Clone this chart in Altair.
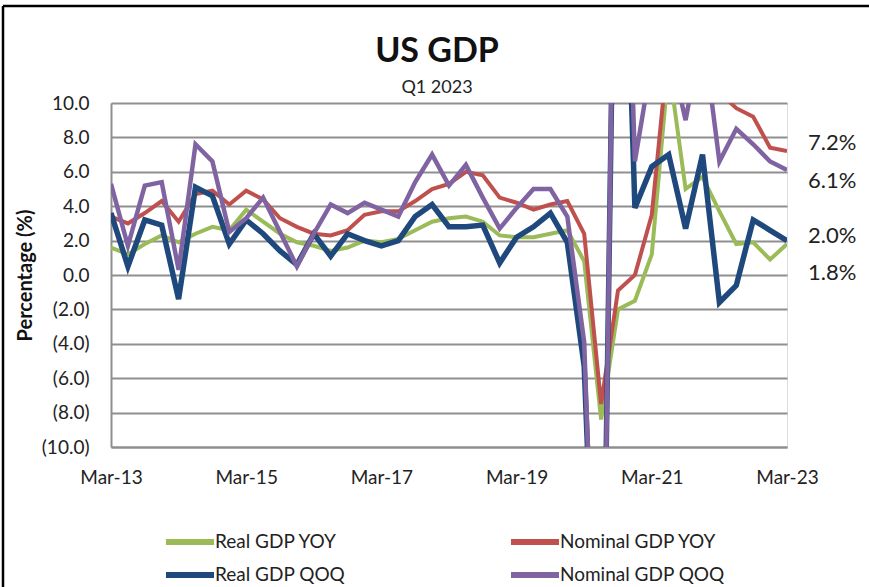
import altair as alt
import pandas as pd

# ---------------- data ----------------
quarters = [f"{m}-{y:02d}" for y in range(13, 24) for m in ["Mar", "Jun", "Sep", "Dec"]][:41]

real_yoy = [1.6, 1.2, 1.8, 2.3, 1.9, 2.4, 2.8, 2.6, 3.8, 3.1,
            2.4, 1.9, 1.7, 1.4, 1.6, 2.0, 1.9, 2.1, 2.6, 3.1,
            3.3, 3.4, 3.1, 2.3, 2.2, 2.2, 2.4, 2.6, 0.8, -8.4,
            -2.0, -1.5, 1.2, 12.2, 5.0, 5.7, 3.7, 1.8, 1.9, 0.9, 1.8]
nominal_yoy = [3.4, 3.0, 3.6, 4.3, 3.1, 4.7, 4.9, 4.1, 4.9, 4.4,
               3.3, 2.8, 2.4, 2.3, 2.6, 3.5, 3.7, 3.7, 4.3, 5.0,
               5.3, 6.0, 5.8, 4.5, 4.2, 3.8, 4.1, 4.3, 2.4, -7.5,
               -0.9, 0.0, 3.5, 13.4, 10.7, 11.7, 10.6, 9.7, 9.2, 7.4, 7.2]
real_qoq = [3.6, 0.5, 3.2, 2.9, -1.4, 5.1, 4.6, 1.8, 3.2, 2.4,
            1.4, 0.6, 2.4, 1.1, 2.4, 2.0, 1.7, 2.0, 3.4, 4.1,
            2.8, 2.8, 2.9, 0.7, 2.2, 2.8, 3.6, 1.9, -5.3, -29.9,
            35.3, 3.9, 6.3, 7.0, 2.7, 7.0, -1.6, -0.6, 3.2, 2.6, 2.0]
nominal_qoq = [5.3, 1.7, 5.2, 5.4, 0.3, 7.6, 6.6, 2.5, 3.3, 4.5,
               2.5, 0.5, 2.4, 4.1, 3.6, 4.2, 3.8, 3.4, 5.4, 7.0,
               5.2, 6.4, 4.5, 2.7, 3.9, 5.0, 5.0, 3.4, -3.9, -32.0,
               38.0, 6.6, 12.5, 13.3, 9.0, 14.3, 6.6, 8.5, 7.6, 6.6, 6.1]

series_names = ["Real GDP YOY", "Nominal GDP YOY", "Real GDP QOQ", "Nominal GDP QOQ"]
series_values = [real_yoy, nominal_yoy, real_qoq, nominal_qoq]

end_labels = ["7.2%", "6.1%", "2.0%", "1.8%"]
end_label_pos = [7.67, 5.47, 2.27, 0.12]   # vertical placement of the right-hand labels (data units)

x_tick_labels = ["Mar-13", "Mar-15", "Mar-17", "Mar-19", "Mar-21", "Mar-23"]
y_ticks = list(range(-10, 11, 2))

# ---------------- styling ----------------
colors = ["#9BBB59", "#C0504D", "#1F497D", "#8064A2"]
widths = [4, 4, 5.5, 4.5]
FONT = "Lato"
GRID = "#8f8f8f"

rows = []
for name, vals in zip(series_names, series_values):
    for q, v in zip(quarters, vals):
        rows.append({"quarter": q, "series": name, "value": v})
df = pd.DataFrame(rows)

x_enc = alt.X(
    "quarter:O",
    sort=quarters,
    scale=alt.Scale(type="point", padding=0),
    axis=alt.Axis(
        values=x_tick_labels, labelAngle=0, ticks=False, grid=False, title=None,
        domainColor=GRID, domainWidth=2, labelFont=FONT, labelFontSize=19,
        labelColor="#222222", labelPadding=21,
    ),
)
y_enc = alt.Y(
    "value:Q",
    scale=alt.Scale(domain=[-10, 10], nice=False, zero=False),
    axis=alt.Axis(
        values=y_ticks, ticks=False, grid=True, gridColor=GRID, gridWidth=2,
        domainColor=GRID, domainWidth=2, labelOverlap=False,
        labelExpr="datum.value < 0 ? '(' + format(-datum.value, '.1f') + ')' : format(datum.value, '.1f')",
        labelFont=FONT, labelFontSize=19, labelColor="#222222", labelPadding=22,
        title="Percentage (%)", titleFont=FONT, titleFontSize=20, titleFontWeight="bold",
        titleColor="#111111", titlePadding=6,
    ),
)
color_enc = alt.Color(
    "series:N",
    scale=alt.Scale(domain=series_names, range=colors),
    legend=alt.Legend(
        title=None, orient="none", legendX=68, legendY=428, columns=2, direction="horizontal",
        symbolType="M-3,0L3,0", symbolSize=256, symbolStrokeWidth=6,
        labelFont=FONT, labelFontSize=19, labelColor="#222222", labelLimit=300,
        labelOffset=14, rowPadding=9, columnPadding=153,
    ),
)

layers = []
for name, w in zip(series_names, widths):
    layers.append(
        alt.Chart(df)
        .transform_filter(alt.datum.series == name)
        .mark_line(clip=True, strokeWidth=w, strokeJoin="miter")
        .encode(x=x_enc, y=y_enc, color=color_enc)
    )

lab_df = pd.DataFrame({"quarter": [quarters[-1]] * len(end_labels),
                       "label": end_labels, "value": end_label_pos})
labels = alt.Chart(lab_df).mark_text(
    align="left", baseline="middle", dx=21, font=FONT, fontSize=22, color="#222222"
).encode(x=x_enc, y=y_enc, text="label:N")

frame_df = pd.DataFrame({"a": [0]})
frame_top = alt.Chart(frame_df).mark_rule(color="black", strokeWidth=2.5).encode(
    x=alt.value(-108), x2=alt.value(760), y=alt.value(-97), y2=alt.value(-97))
frame_left = alt.Chart(frame_df).mark_rule(color="black", strokeWidth=2.5).encode(
    x=alt.value(-108), x2=alt.value(-108), y=alt.value(-97), y2=alt.value(490))

chart = alt.layer(*layers, labels, frame_top, frame_left).properties(
    width=676, height=344,
    title=alt.TitleParams(
        "US GDP", subtitle="Q1 2023", font=FONT, fontSize=34, fontWeight="bold",
        color="#111111", subtitleFont=FONT, subtitleFontSize=18, subtitleColor="#222222",
        anchor="middle", dx=-12, offset=-92, subtitlePadding=10,
    ),
    autosize=alt.AutoSizeParams(type="none"),
    padding={"left": 111, "top": 103, "right": 82, "bottom": 140},
).configure_view(stroke=None).configure(background="white")

chart.save("out.html", embed_options={"renderer": "svg", "actions": False})
